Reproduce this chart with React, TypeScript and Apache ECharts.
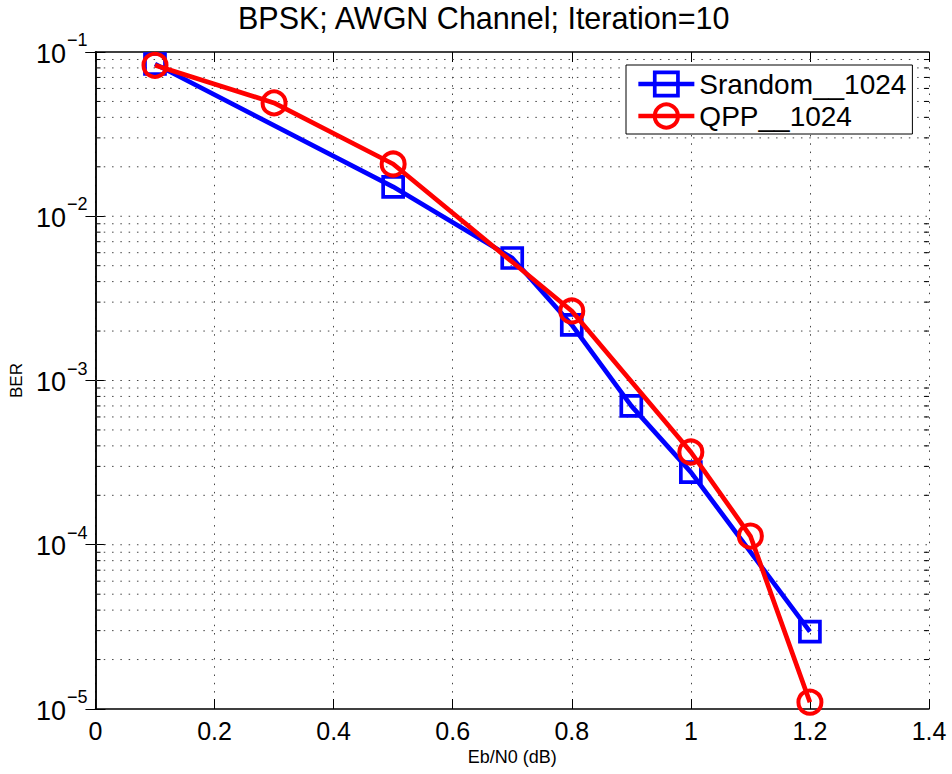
import React, { useEffect, useRef } from "react";
import * as echarts from "echarts";

const xSrandom = [0.1, 0.5, 0.7, 0.8, 0.9, 1.0, 1.2];
const ySrandom = [0.0845, 0.0151, 0.00557, 0.00218, 0.0007, 0.000277, 2.96e-5];
const xQPP = [0.1, 0.3, 0.5, 0.8, 1.0, 1.1, 1.2];
const yQPP = [0.083, 0.049, 0.0208, 0.00265, 0.000367, 0.000113, 1.1e-5];
const decadeExponents = [-5, -4, -3, -2];
const mantissas = [1, 2, 3, 4, 5, 6, 7, 8, 9];
const xTickMin = 0;
const xTickMax = 1.4;

const FONT = "Liberation Sans, Arial, Helvetica, sans-serif";

export default function App() {
  const ref = useRef<HTMLDivElement>(null);
  useEffect(() => {
    if (!ref.current) return;
    const chart = echarts.init(ref.current, null, { renderer: "svg" });
    const dotted = { type: [1.5, 6.8] as any, color: "#444", width: 1 };
    const gridValues: number[] = [];
    const minorValues: number[] = [];
    decadeExponents.forEach((e) =>
      mantissas.forEach((m) => {
        const v = parseFloat((m * Math.pow(10, e)).toPrecision(3));
        if (!(m === 1 && e === -5)) gridValues.push(v);
        if (m !== 1) minorValues.push(v);
      })
    );
    const minorTickLen = 0.0085;
    const gridSeries = gridValues.map((v, i) => ({
      name: "grid" + i,
      type: "line",
      silent: true,
      symbol: "none",
      data: [
        [xTickMin, v],
        [xTickMax, v],
      ],
      lineStyle: dotted,
      z: 1,
    }));
    const tickSeries: any[] = [];
    minorValues.forEach((v, i) => {
      tickSeries.push({
        name: "tl" + i,
        type: "line",
        silent: true,
        symbol: "none",
        data: [
          [xTickMin, v],
          [xTickMin + minorTickLen, v],
        ],
        lineStyle: { color: "#000", width: 1 },
        z: 2,
      });
      tickSeries.push({
        name: "tr" + i,
        type: "line",
        silent: true,
        symbol: "none",
        data: [
          [xTickMax - minorTickLen, v],
          [xTickMax, v],
        ],
        lineStyle: { color: "#000", width: 1 },
        z: 2,
      });
    });
    chart.setOption({
      animation: false,
      backgroundColor: "#fff",
      title: {
        text: "BPSK; AWGN Channel; Iteration=10",
        left: 238,
        top: 2,
        padding: 0,
        textStyle: { fontFamily: FONT, fontSize: 30.5, fontWeight: "normal", color: "#000" },
      },
      grid: { left: 95, top: 52, right: 23, bottom: 65 },
      legend: {
        orient: "vertical",
        left: 626,
        top: 65,
        padding: [5, 6, 4, 10],
        itemGap: 4,
        itemWidth: 56,
        itemHeight: 29,
        borderColor: "#000",
        borderWidth: 1,
        backgroundColor: "#fff",
        lineStyle: { width: 4.7 },
        itemStyle: { borderWidth: 3.7 },
        textStyle: { fontFamily: FONT, fontSize: 28, color: "#000" },
        data: [
          { name: "Srandom__1024", lineStyle: { width: 4.7 }, itemStyle: { borderWidth: 3.7 } },
          { name: "QPP__1024", lineStyle: { width: 4.7 }, itemStyle: { borderWidth: 4 } },
        ],
      },
      xAxis: [
        {
          type: "value",
          min: xTickMin,
          max: xTickMax,
          interval: 0.2,
          name: "Eb/N0 (dB)",
          nameLocation: "middle",
          nameGap: 38,
          nameTextStyle: { fontFamily: FONT, fontSize: 18, color: "#000" },
          axisLine: { show: true, lineStyle: { color: "#000", width: 1.5 } },
          axisTick: { show: true, inside: true, length: 10, lineStyle: { color: "#000" } },
          axisLabel: {
            fontFamily: FONT,
            fontSize: 25,
            color: "#000",
            margin: 9,
            formatter: (v: number) => String(Math.round(v * 10) / 10),
          },
          splitLine: { show: true, lineStyle: dotted },
        },
        {
          type: "value",
          position: "top",
          min: xTickMin,
          max: xTickMax,
          interval: 0.2,
          axisLine: { show: true, lineStyle: { color: "#000", width: 1.5 } },
          axisTick: { show: true, inside: true, length: 10, lineStyle: { color: "#000" } },
          axisLabel: { show: false },
          splitLine: { show: false },
        },
      ],
      yAxis: [
        {
          type: "log",
          logBase: 10,
          min: 1e-5,
          max: 1e-1,
          name: "BER",
          nameLocation: "middle",
          nameGap: 69,
          nameTextStyle: { fontFamily: FONT, fontSize: 17, color: "#000" },
          axisLine: { show: true, lineStyle: { color: "#000", width: 1.5 } },
          axisTick: { show: true, inside: true, length: 10, lineStyle: { color: "#000" } },
          axisLabel: {
            margin: 8,
            formatter: (v: number) => {
              const e = Math.round(Math.log10(v));
              return "{b|10}{e|\u2212" + Math.abs(e) + "}";
            },
            rich: {
              b: { fontFamily: FONT, fontSize: 27, color: "#000", verticalAlign: "bottom", padding: [0, 0, 6, 0] },
              e: { fontFamily: FONT, fontSize: 18, color: "#000", verticalAlign: "bottom", padding: [0, 0, 24, 1] },
            },
          },
          splitLine: { show: false },
        },
        {
          type: "log",
          logBase: 10,
          min: 1e-5,
          max: 1e-1,
          position: "right",
          axisLine: { show: true, lineStyle: { color: "#000", width: 1.5 } },
          axisTick: { show: true, inside: true, length: 10, lineStyle: { color: "#000" } },
          axisLabel: { show: false },
          splitLine: { show: false },
        },
      ],
      series: [
        ...gridSeries,
        ...tickSeries,
        {
          name: "Srandom__1024",
          type: "line",
          data: xSrandom.map((x, i) => [x, ySrandom[i]]),
          symbol: "rect",
          symbolSize: 20,
          lineStyle: { color: "#0000ff", width: 4.7 },
          itemStyle: { color: "rgba(0,0,0,0)", borderColor: "#0000ff", borderWidth: 3.7 },
          z: 3,
        },
        {
          name: "QPP__1024",
          type: "line",
          data: xQPP.map((x, i) => [x, yQPP[i]]),
          symbol: "circle",
          symbolSize: 23,
          lineStyle: { color: "#ff0000", width: 4.7 },
          itemStyle: { color: "rgba(0,0,0,0)", borderColor: "#ff0000", borderWidth: 4 },
          z: 4,
        },
      ],
    });
    return () => chart.dispose();
  }, []);
  return <div ref={ref} style={{ width: 952, height: 774, position: "absolute", left: 0, top: 0 }} />;
}
